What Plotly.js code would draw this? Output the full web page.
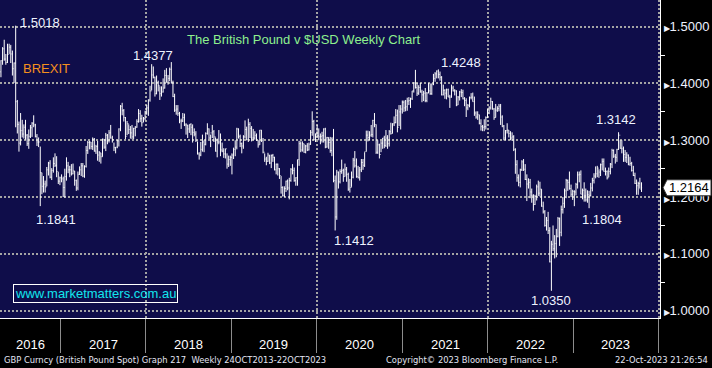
<!DOCTYPE html>
<html><head><meta charset="utf-8">
<script src="https://cdn.plot.ly/plotly-3.0.1.min.js"></script>
<style>html,body{margin:0;padding:0;background:#000;overflow:hidden}#chart{width:712px;height:368px}</style>
</head><body><div id="chart"></div>
<script>
// ---------------- DATA (weekly GBP/USD bars: [high, low, close]) ----------------
const firstWeek = '2016-04-22';   // Friday of the first weekly bar
const firstOpen = 1.4205;
const hlc2016 = [
[1.441,1.411,1.440],[1.464,1.433,1.461],[1.477,1.440,1.443],[1.452,1.433,1.437],[1.470,1.436,1.451],
[1.470,1.452,1.464],[1.468,1.436,1.452],[1.458,1.414,1.426],[1.437,1.401,1.436],[1.5018,1.3229,1.368],
[1.371,1.312,1.328],[1.333,1.280,1.295],[1.348,1.291,1.317],[1.336,1.305,1.311],[1.328,1.303,1.323],
[1.336,1.301,1.309],[1.311,1.290,1.294],[1.319,1.285,1.307],[1.327,1.304,1.322],[1.332,1.306,1.330],
[1.344,1.323,1.327],[1.329,1.305,1.307],[1.311,1.290,1.297],[1.305,1.288,1.297],[1.289,1.1841,1.243],
[1.243,1.205,1.219],[1.237,1.208,1.223],[1.229,1.208,1.218],[1.253,1.219,1.248],[1.262,1.238,1.260],
[1.265,1.233,1.235],[1.251,1.230,1.247],[1.270,1.243,1.259],[1.277,1.253,1.256],[1.272,1.235,1.245],
[1.244,1.223,1.228],[1.236,1.221,1.234]];
const hlc2017 = [
[1.240,1.226,1.232],[1.236,1.200,1.217],[1.250,1.199,1.236],[1.270,1.229,1.255],[1.262,1.242,1.248],
[1.255,1.235,1.248],[1.258,1.238,1.241],[1.259,1.240,1.246],[1.246,1.220,1.229],[1.231,1.211,1.216],
[1.245,1.212,1.240],[1.254,1.239,1.248],[1.260,1.237,1.255],[1.260,1.235,1.237],[1.256,1.234,1.254],
[1.290,1.252,1.282],[1.299,1.276,1.296],[1.299,1.284,1.297],[1.297,1.284,1.289],[1.305,1.283,1.302],
[1.304,1.280,1.281],[1.292,1.276,1.289],[1.299,1.264,1.274],[1.281,1.262,1.278],[1.278,1.259,1.271],
[1.303,1.271,1.302],[1.302,1.285,1.288],[1.313,1.281,1.309],[1.311,1.293,1.299],[1.318,1.296,1.313],
[1.327,1.303,1.304],[1.308,1.296,1.301],[1.296,1.281,1.287],[1.288,1.277,1.288],[1.301,1.286,1.299],
[1.321,1.289,1.320],[1.362,1.316,1.360],[1.366,1.344,1.352],[1.355,1.333,1.340],[1.341,1.302,1.307],
[1.334,1.309,1.329],[1.328,1.311,1.319],[1.325,1.303,1.313],[1.327,1.302,1.306],[1.322,1.302,1.321],
[1.325,1.307,1.323],[1.337,1.322,1.333],[1.355,1.331,1.347],[1.353,1.332,1.338],[1.345,1.324,1.331],
[1.341,1.332,1.338],[1.352,1.335,1.351]];
const hlc2018 = [
[1.362,1.345,1.357],[1.372,1.343,1.371],[1.396,1.368,1.387],[1.434,1.388,1.415],[1.430,1.409,1.411],
[1.412,1.377,1.382],[1.414,1.381,1.402],[1.405,1.386,1.396],[1.395,1.371,1.382],[1.395,1.377,1.385],
[1.409,1.384,1.392],[1.424,1.391,1.414],[1.427,1.402,1.402],[1.415,1.398,1.409],[1.428,1.404,1.425],
[1.4377,1.400,1.401],[1.405,1.376,1.377],[1.382,1.350,1.353],[1.362,1.345,1.355],[1.362,1.343,1.347],
[1.350,1.330,1.334],[1.338,1.320,1.334],[1.348,1.332,1.340],[1.347,1.325,1.327],[1.330,1.310,1.327],
[1.327,1.304,1.320],[1.328,1.313,1.328],[1.330,1.309,1.323],[1.328,1.296,1.314],[1.321,1.307,1.311],
[1.316,1.297,1.300],[1.298,1.275,1.276],[1.279,1.266,1.274],[1.297,1.272,1.284],[1.310,1.280,1.297],
[1.300,1.279,1.293],[1.314,1.291,1.312],[1.330,1.310,1.320],[1.321,1.302,1.304],[1.310,1.288,1.313],
[1.327,1.304,1.315],[1.318,1.297,1.306],[1.305,1.280,1.281],[1.303,1.270,1.297],[1.318,1.293,1.297],
[1.312,1.272,1.283],[1.296,1.279,1.281],[1.286,1.269,1.276],[1.285,1.268,1.285],[1.277,1.250,1.258],
[1.273,1.253,1.266],[1.273,1.255,1.270]];
const hlc2019 = [
[1.277,1.240,1.274],[1.287,1.267,1.284],[1.300,1.272,1.288],[1.322,1.284,1.320],[1.321,1.303,1.307],
[1.310,1.288,1.294],[1.296,1.277,1.290],[1.309,1.285,1.306],[1.335,1.303,1.319],[1.324,1.300,1.301],
[1.338,1.297,1.328],[1.332,1.304,1.321],[1.325,1.298,1.304],[1.320,1.300,1.304],[1.316,1.301,1.308],
[1.312,1.299,1.300],[1.300,1.287,1.292],[1.318,1.292,1.318],[1.318,1.297,1.300],[1.304,1.277,1.279],
[1.277,1.262,1.267],[1.271,1.256,1.263],[1.278,1.262,1.274],[1.274,1.258,1.260],[1.275,1.251,1.273],
[1.276,1.262,1.270],[1.271,1.247,1.248],[1.259,1.240,1.258],[1.259,1.238,1.250],[1.251,1.232,1.238],
[1.237,1.206,1.217],[1.219,1.201,1.203],[1.219,1.200,1.215],[1.229,1.209,1.228],[1.231,1.212,1.216],
[1.234,1.196,1.229],[1.251,1.227,1.249],[1.258,1.240,1.247],[1.252,1.227,1.229],[1.235,1.220,1.234],
[1.266,1.220,1.266],[1.299,1.255,1.294],[1.298,1.279,1.283],[1.298,1.280,1.294],[1.294,1.278,1.279],
[1.292,1.277,1.290],[1.295,1.281,1.283],[1.296,1.282,1.293],[1.318,1.292,1.314],[1.351,1.308,1.333],
[1.336,1.300,1.301],[1.312,1.297,1.311]];
const hlc2020 = [
[1.327,1.305,1.308],[1.321,1.300,1.306],[1.312,1.293,1.307],[1.315,1.296,1.308],[1.321,1.296,1.320],
[1.322,1.286,1.288],[1.306,1.287,1.305],[1.305,1.285,1.296],[1.306,1.278,1.282],[1.305,1.272,1.304],
[1.320,1.226,1.229],[1.238,1.1412,1.165],[1.248,1.160,1.244],[1.245,1.215,1.227],[1.249,1.224,1.245],
[1.266,1.241,1.247],[1.250,1.227,1.236],[1.259,1.236,1.249],[1.253,1.227,1.240],[1.243,1.211,1.214],
[1.232,1.208,1.217],[1.245,1.218,1.235],[1.269,1.233,1.265],[1.281,1.252,1.255],[1.268,1.234,1.236],
[1.255,1.233,1.234],[1.253,1.229,1.248],[1.267,1.244,1.261],[1.267,1.248,1.256],[1.279,1.253,1.280],
[1.317,1.280,1.309],[1.317,1.298,1.305],[1.316,1.300,1.309],[1.327,1.306,1.310],[1.336,1.305,1.335],
[1.348,1.323,1.328],[1.328,1.276,1.279],[1.300,1.276,1.292],[1.294,1.268,1.275],[1.299,1.279,1.295],
[1.304,1.285,1.304],[1.308,1.286,1.291],[1.318,1.288,1.304],[1.309,1.285,1.294],[1.318,1.289,1.315],
[1.331,1.310,1.312],[1.330,1.312,1.329],[1.342,1.325,1.331],[1.355,1.330,1.344],[1.354,1.314,1.323],
[1.362,1.325,1.350],[1.362,1.319,1.355]];
const hlc2021 = [
[1.370,1.347,1.367],[1.370,1.350,1.357],[1.371,1.351,1.359],[1.375,1.352,1.369],[1.376,1.362,1.370],
[1.375,1.357,1.373],[1.387,1.371,1.387],[1.402,1.384,1.401],[1.424,1.391,1.393],[1.401,1.378,1.383],
[1.397,1.380,1.393],[1.401,1.384,1.385],[1.389,1.367,1.380],[1.387,1.369,1.383],[1.392,1.367,1.370],
[1.385,1.367,1.383],[1.401,1.383,1.387],[1.400,1.380,1.382],[1.400,1.380,1.399],[1.417,1.397,1.409],
[1.420,1.403,1.417],[1.423,1.409,1.422],[1.4248,1.409,1.416],[1.421,1.405,1.411],[1.413,1.379,1.380],
[1.398,1.379,1.388],[1.390,1.373,1.383],[1.391,1.372,1.389],[1.391,1.376,1.376],[1.380,1.357,1.376],
[1.398,1.375,1.392],[1.396,1.386,1.387],[1.390,1.379,1.387],[1.388,1.360,1.362],[1.378,1.362,1.376],
[1.387,1.370,1.385],[1.390,1.376,1.384],[1.389,1.372,1.373],[1.376,1.360,1.370],[1.374,1.341,1.357],
[1.364,1.353,1.361],[1.377,1.358,1.375],[1.383,1.372,1.376],[1.384,1.368,1.368],[1.377,1.343,1.348],
[1.351,1.338,1.341],[1.351,1.336,1.345],[1.345,1.328,1.330],[1.337,1.317,1.324],[1.327,1.316,1.323],
[1.337,1.316,1.324],[1.342,1.319,1.340],[1.355,1.339,1.353]];
const hlc2022 = [
[1.360,1.346,1.357],[1.375,1.354,1.368],[1.369,1.354,1.355],[1.357,1.336,1.340],[1.364,1.340,1.353],
[1.360,1.350,1.356],[1.364,1.351,1.360],[1.364,1.327,1.341],[1.344,1.323,1.325],[1.327,1.300,1.304],
[1.318,1.300,1.317],[1.330,1.312,1.318],[1.318,1.305,1.312],[1.316,1.300,1.304],[1.314,1.299,1.306],
[1.309,1.281,1.284],[1.286,1.241,1.257],[1.265,1.227,1.234],[1.240,1.219,1.226],[1.250,1.217,1.248],
[1.265,1.246,1.262],[1.267,1.246,1.249],[1.258,1.230,1.231],[1.240,1.193,1.223],[1.233,1.215,1.226],
[1.232,1.198,1.209],[1.215,1.190,1.203],[1.205,1.176,1.187],[1.204,1.186,1.201],[1.222,1.194,1.218],
[1.229,1.202,1.207],[1.227,1.201,1.214],[1.214,1.183,1.184],[1.192,1.171,1.174],[1.177,1.148,1.150],
[1.165,1.141,1.159],[1.174,1.135,1.141],[1.147,1.085,1.086],[1.123,1.0350,1.117],[1.150,1.105,1.109],
[1.133,1.092,1.118],[1.144,1.094,1.131],[1.165,1.129,1.162],[1.164,1.114,1.138],[1.185,1.131,1.178],
[1.200,1.171,1.189],[1.215,1.181,1.211],[1.232,1.198,1.229],[1.231,1.211,1.226],[1.245,1.213,1.215],
[1.222,1.200,1.205],[1.213,1.195,1.210]];
const hlc2023 = [
[1.212,1.184,1.209],[1.225,1.203,1.222],[1.245,1.215,1.239],[1.245,1.226,1.240],[1.247,1.205,1.205],
[1.215,1.196,1.212],[1.226,1.192,1.203],[1.215,1.192,1.195],[1.212,1.190,1.204],[1.211,1.1804,1.203],
[1.225,1.201,1.216],[1.234,1.210,1.229],[1.242,1.224,1.237],[1.254,1.233,1.241],[1.255,1.235,1.251],
[1.249,1.234,1.244],[1.259,1.237,1.257],[1.268,1.247,1.263],[1.268,1.245,1.245],[1.252,1.238,1.245],
[1.247,1.231,1.234],[1.252,1.235,1.245],[1.260,1.240,1.258],[1.285,1.251,1.282],[1.284,1.269,1.272],
[1.276,1.259,1.270],[1.285,1.262,1.284],[1.3142,1.283,1.309],[1.300,1.285,1.286],[1.300,1.277,1.285],
[1.289,1.262,1.275],[1.283,1.262,1.270],[1.279,1.260,1.274],[1.275,1.256,1.258],[1.271,1.255,1.259],
[1.262,1.245,1.247],[1.255,1.237,1.238],[1.243,1.223,1.224],[1.231,1.204,1.220],[1.227,1.204,1.224],
[1.234,1.215,1.214],[1.226,1.209,1.2164]];

const yTicks = [1.0, 1.1, 1.2, 1.3, 1.4, 1.5];
const yearLabels = ['2016','2017','2018','2019','2020','2021','2022','2023'];
const calloutDates = ['2016-06-24','2016-10-07','2018-04-20','2020-03-20','2021-06-04','2022-09-30','2023-03-10','2023-07-14'];
const calloutKinds = ['high','low','high','low','high','low','low','high'];
const chartTitle = 'The British Pound v $USD Weekly Chart';
const eventLabel = 'BREXIT';
const siteLabel = 'www.marketmatters.com.au';
const footerLeft = 'GBP Curncy (British Pound Spot) Graph 217  Weekly 24OCT2013-22OCT2023';
const footerMid = 'Copyright\u00A9 2023 Bloomberg Finance L.P.';
const footerRight = '22-Oct-2023 21:26:54';

// ---------------- BUILD ----------------
const rows = [].concat(hlc2016, hlc2017, hlc2018, hlc2019, hlc2020, hlc2021, hlc2022, hlc2023);
const high = rows.map(r => r[0]);
const low = rows.map(r => r[1]);
const close = rows.map(r => r[2]);
const open = close.map((c, i) => i === 0 ? firstOpen : close[i - 1]);
const t0 = Date.parse(firstWeek + 'T00:00:00Z');
const dates = rows.map((r, i) => new Date(t0 + i * 7 * 864e5).toISOString().slice(0, 10));
const lastClose = close[close.length - 1];

const FONT = 'Liberation Sans, Arial, sans-serif';
const xStart = '2016-04-18', xEnd = '2024-01-07';
const gridCol = '#a4a4a4', sepCol = '#8c8c8c';

const trace = {
  type: 'ohlc', x: dates, open: open, high: high, low: low, close: close,
  increasing: {line: {color: '#ffffff', width: 1}},
  decreasing: {line: {color: '#ffffff', width: 1}},
  tickwidth: 0.35, hoverinfo: 'skip'
};

// callout placement styles: [xanchor, yanchor, xshift, yshift]
const calloutStyle = [
  ['left','middle',2,3], ['left','top',-6,-4], ['right','bottom',4,-3], ['left','top',-3,-1],
  ['left','bottom',1,-3], ['center','top',0,0], ['left','top',-9,-2], ['center','bottom',-3,3]
];
const labelFont = {family: FONT, size: 13, color: '#eef2ff'};
const ann = [];
calloutDates.forEach((d, k) => {
  const i = dates.indexOf(d);
  const v = calloutKinds[k] === 'high' ? high[i] : low[i];
  const s = calloutStyle[k];
  ann.push({x: d, y: v, xref: 'x', yref: 'y', text: v.toFixed(4), showarrow: false,
    xanchor: s[0], yanchor: s[1], xshift: s[2], yshift: s[3], font: labelFont});
});
const fmt = ms => new Date(ms).toISOString().slice(0, 19).replace('T', ' ');
yearLabels.forEach(y => {
  const a = Math.max(Date.parse(y + '-01-01T00:00:00Z'), Date.parse(xStart + 'T00:00:00Z'));
  const b = Date.parse((+y + 1) + '-01-01T00:00:00Z');
  ann.push({x: fmt((a + b) / 2), xref: 'x', y: -0.0818, yref: 'paper', text: y, showarrow: false,
    xanchor: 'center', yanchor: 'middle', font: {family: FONT, size: 13, color: '#ffffff'}});
});
ann.push({x: 0.4606, y: 0.877, xref: 'paper', yref: 'paper', xanchor: 'center', yanchor: 'middle',
  text: chartTitle, showarrow: false, font: {family: FONT, size: 13, color: '#8ef08e'}});
ann.push({x: 0.0712, y: 0.786, xref: 'paper', yref: 'paper', xanchor: 'center', yanchor: 'middle',
  text: eventLabel, showarrow: false, font: {family: FONT, size: 13, color: '#f5901e'}});
ann.push({x: 0.1452, y: 0.078, xref: 'paper', yref: 'paper', xanchor: 'center', yanchor: 'middle',
  text: siteLabel, showarrow: false, bordercolor: '#ffffff', borderwidth: 1, borderpad: 1,
  font: {family: FONT, size: 13, color: '#12e6ee'}});
const footFont = {family: 'Liberation Sans Narrow, DejaVu Sans Condensed, Liberation Sans, sans-serif', size: 9.3, color: '#e4e6f4'};
ann.push({x: 0.003, y: -0.132, xref: 'paper', yref: 'paper', xanchor: 'left', yanchor: 'middle', text: footerLeft, showarrow: false, font: footFont});
ann.push({x: 0.5818, y: -0.132, xref: 'paper', yref: 'paper', xanchor: 'left', yanchor: 'middle', text: footerMid, showarrow: false, font: footFont});
ann.push({x: 1.0758, y: -0.132, xref: 'paper', yref: 'paper', xanchor: 'right', yanchor: 'middle', text: footerRight, showarrow: false, font: footFont});
// last price tag
ann.push({x: 1, y: lastClose, xref: 'paper', yref: 'y', xanchor: 'left', yanchor: 'middle', xshift: 7,
  text: lastClose.toFixed(4), showarrow: false, font: {family: FONT, size: 13, color: '#000000'}});

const shapes = [{
  type: 'path', xref: 'paper', yref: 'y', xsizemode: 'pixel', ysizemode: 'pixel',
  xanchor: 1, yanchor: lastClose, path: 'M 3 0 L 7 8 L 51 8 L 51 -8 L 7 -8 Z',
  fillcolor: '#ffffff', line: {color: '#333333', width: 1}, layer: 'above'
}];

const layout = {
  width: 712, height: 368, margin: {l: 0, r: 52, t: 0, b: 50},
  paper_bgcolor: '#000000', plot_bgcolor: '#0f0d4a', showlegend: false,
  font: {family: FONT, size: 13, color: '#ffffff'},
  xaxis: {
    type: 'date', range: [xStart, xEnd], rangeslider: {visible: false},
    tick0: '2018-01-01', dtick: 'M24', showgrid: true, gridcolor: gridCol, gridwidth: 2, griddash: '2px,2px',
    ticks: 'outside', ticklen: 34, tickcolor: sepCol, tickwidth: 1, showticklabels: false,
    showline: true, linecolor: '#ffffff', linewidth: 1, zeroline: false,
    minor: {tick0: '2017-01-01', dtick: 'M12', ticks: 'outside', ticklen: 34, tickcolor: sepCol, tickwidth: 1, showgrid: false}
  },
  yaxis: {
    side: 'right', range: [0.9871, 1.547], tickmode: 'array', tickvals: yTicks,
    ticktext: yTicks.map(v => '<span style="font-size:8px">\u25B6</span>' + v.toFixed(4)),
    ticks: '', showgrid: true, gridcolor: gridCol, gridwidth: 2, griddash: '2px,2px',
    showline: true, linecolor: '#ffffff', linewidth: 1, zeroline: false,
    tickfont: {family: FONT, size: 13, color: '#eef2ff'},
    minor: {tickmode: 'linear', tick0: 1.05, dtick: 0.1, ticks: 'outside', ticklen: 4, tickcolor: '#ffffff', tickwidth: 1, showgrid: false}
  },
  annotations: ann, shapes: shapes
};

Plotly.newPlot('chart', [trace], layout, {staticPlot: true, displayModeBar: false});
</script>
</body></html>
